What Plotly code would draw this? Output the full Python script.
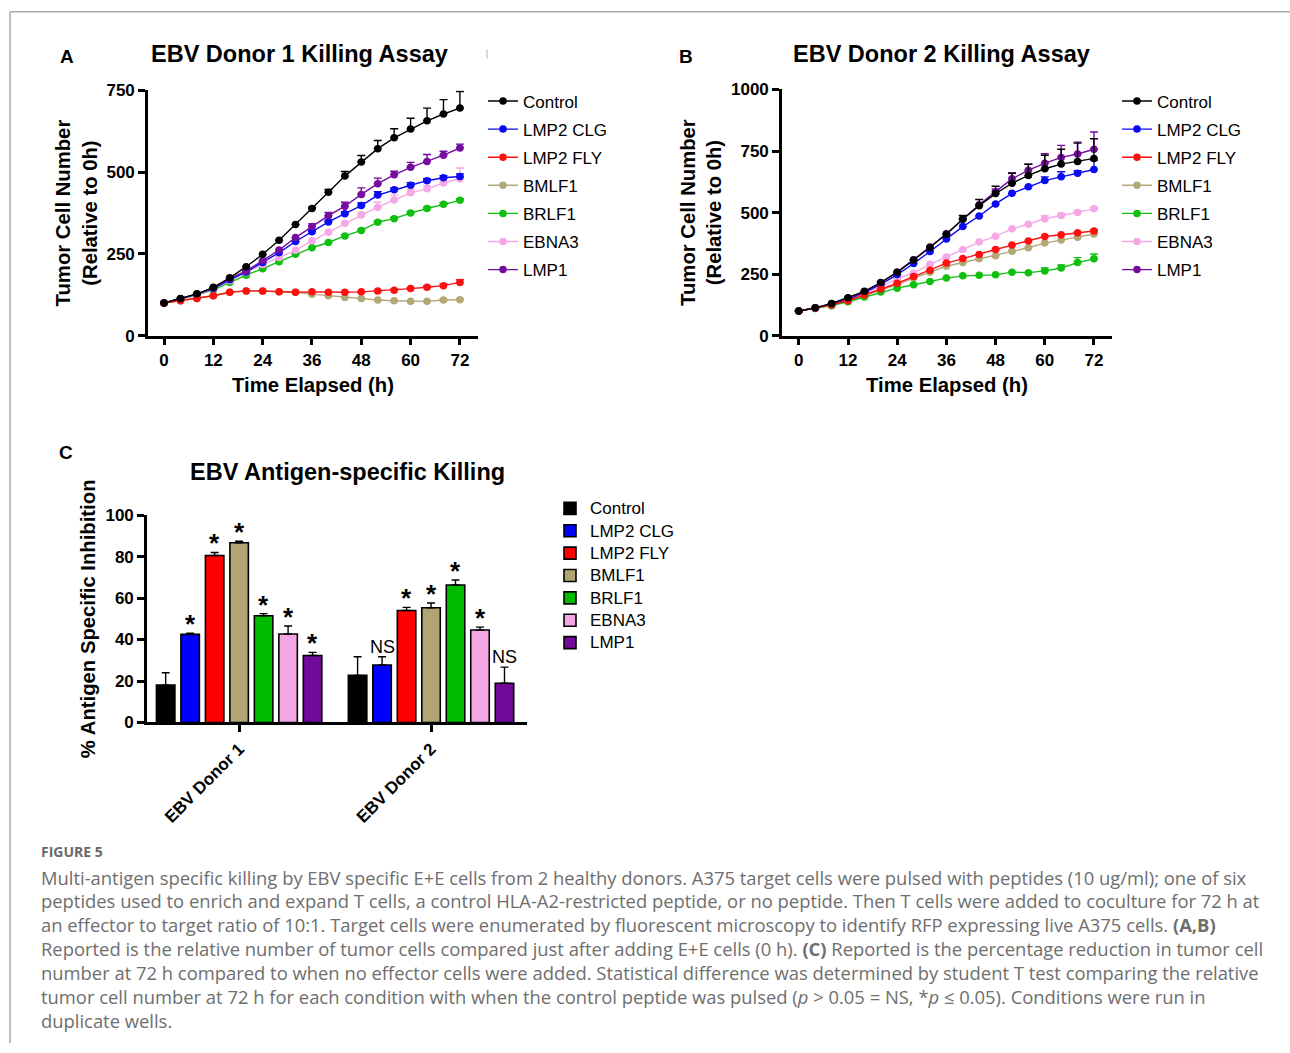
import plotly.graph_objects as go

# ---------------- data ----------------
hours = [0, 4, 8, 12, 16, 20, 24, 28, 32, 36, 40, 44, 48, 52, 56, 60, 64, 68, 72]
conditions = ["Control", "LMP2 CLG", "LMP2 FLY", "BMLF1", "BRLF1", "EBNA3", "LMP1"]

# Panel A: EBV Donor 1
a_control = [100, 114, 128, 148, 177, 211, 249, 292, 340, 389, 439, 488, 531, 572, 605, 632, 657, 678, 696]
a_control_err = [0, 0, 0, 0, 0, 0, 0, 0, 0, 3, 8, 14, 20, 25, 28, 33, 39, 44, 51]
a_lmp2clg = [100, 113, 127, 144, 171, 195, 224, 254, 288, 318, 348, 373, 398, 430, 446, 460, 474, 483, 487]
a_lmp2clg_err = [0, 0, 0, 0, 0, 0, 0, 0, 0, 4, 5, 6, 8, 10, 6, 8, 6, 6, 8]
a_lmp2fly = [100, 107, 114, 122, 133, 137, 137, 134, 133, 134, 133, 133, 134, 137, 139, 144, 148, 153, 163]
a_lmp2fly_err = [0, 0, 0, 0, 0, 0, 0, 0, 0, 0, 0, 0, 0, 0, 3, 3, 4, 5, 8]
a_bmlf1 = [100, 107, 114, 122, 133, 137, 136, 134, 133, 127, 122, 117, 114, 109, 107, 105, 105, 109, 110]
a_bmlf1_err = [0, 0, 0, 0, 0, 0, 0, 0, 0, 0, 0, 0, 0, 0, 0, 0, 0, 3, 3]
a_brlf1 = [100, 112, 124, 140, 163, 185, 205, 226, 249, 269, 285, 305, 322, 347, 358, 375, 389, 402, 414]
a_brlf1_err = [0, 0, 0, 0, 0, 0, 0, 0, 0, 0, 0, 3, 4, 4, 4, 5, 5, 5, 5]
a_ebna3 = [100, 112, 125, 143, 168, 193, 218, 239, 261, 290, 316, 344, 369, 393, 415, 437, 449, 467, 480]
a_ebna3_err = [0, 0, 0, 0, 0, 0, 0, 0, 0, 0, 0, 0, 8, 15, 15, 10, 10, 10, 33]
a_lmp1 = [100, 113, 127, 146, 175, 198, 229, 262, 300, 334, 367, 396, 432, 465, 492, 515, 533, 552, 574]
a_lmp1_err = [0, 0, 0, 0, 0, 0, 0, 0, 0, 8, 10, 12, 20, 17, 11, 15, 21, 12, 12]

# Panel B: EBV Donor 2
b_control = [100, 113, 131, 154, 180, 216, 258, 307, 358, 412, 473, 528, 577, 619, 651, 678, 697, 707, 720]
b_control_err = [0, 0, 0, 0, 0, 0, 0, 0, 0, 0, 15, 25, 30, 40, 45, 55, 60, 75, 80]
b_lmp2clg = [100, 112, 128, 148, 175, 208, 248, 293, 342, 393, 443, 486, 535, 578, 605, 630, 645, 660, 675]
b_lmp2clg_err = [0, 0, 0, 0, 0, 0, 0, 0, 0, 0, 0, 0, 0, 0, 0, 15, 21, 10, 37]
b_lmp2fly = [100, 112, 125, 142, 165, 190, 213, 240, 266, 295, 313, 330, 350, 368, 385, 403, 410, 418, 425]
b_lmp2fly_err = [0, 0, 0, 0, 0, 0, 0, 0, 0, 0, 0, 0, 0, 0, 0, 0, 0, 0, 5]
b_bmlf1 = [100, 111, 124, 140, 162, 185, 208, 234, 258, 282, 297, 312, 325, 343, 357, 376, 389, 400, 413]
b_bmlf1_err = [0, 0, 0, 0, 0, 0, 0, 0, 0, 0, 0, 0, 0, 0, 0, 0, 0, 0, 4]
b_brlf1 = [100, 110, 122, 138, 157, 177, 193, 207, 220, 234, 243, 245, 247, 258, 256, 263, 275, 297, 312]
b_brlf1_err = [0, 0, 0, 0, 0, 0, 0, 0, 0, 0, 0, 0, 0, 0, 0, 12, 12, 20, 20]
b_ebna3 = [100, 112, 127, 145, 170, 198, 232, 254, 290, 320, 350, 380, 404, 434, 453, 475, 488, 500, 515]
b_ebna3_err = [0, 0, 0, 0, 0, 0, 0, 0, 0, 0, 0, 0, 0, 0, 0, 12, 8, 8, 6]
b_lmp1 = [100, 113, 130, 152, 178, 215, 258, 308, 360, 414, 475, 532, 585, 637, 672, 700, 724, 738, 757]
b_lmp1_err = [0, 0, 0, 0, 0, 0, 0, 0, 0, 0, 0, 0, 10, 25, 24, 39, 49, 48, 70]

# Panel C: % antigen specific inhibition at 72 h
donors = ["EBV Donor 1", "EBV Donor 2"]
c_donor1 = [18.0, 42.5, 80.5, 86.7, 51.5, 42.7, 32.3]
c_donor1_err = [6.0, 0.5, 1.5, 0.7, 1.0, 3.8, 1.5]
c_donor2 = [22.7, 27.7, 54.0, 55.3, 66.3, 44.6, 18.9]
c_donor2_err = [9.0, 4.0, 1.5, 2.3, 2.4, 1.4, 7.8]
c_sig1 = ["", "*", "*", "*", "*", "*", "*"]
c_sig2 = ["", "NS", "*", "*", "*", "*", "NS"]

y_ticks_a = [0, 250, 500, 750]
y_ticks_b = [0, 250, 500, 750, 1000]
y_ticks_c = [0, 20, 40, 60, 80, 100]
x_ticks = [0, 12, 24, 36, 48, 60, 72]

# ---------------- style ----------------
line_colors = {"Control": "#000000", "LMP2 CLG": "#0a0af5", "LMP2 FLY": "#ff1010",
               "BMLF1": "#b3a878", "BRLF1": "#10c010", "EBNA3": "#f5a8e6", "LMP1": "#740d9e"}
bar_colors = {"Control": "#000000", "LMP2 CLG": "#0000ff", "LMP2 FLY": "#ff0000",
              "BMLF1": "#b2a574", "BRLF1": "#00bb00", "EBNA3": "#f4a6e4", "LMP1": "#71099a"}
FONT = "Liberation Sans, Arial, Helvetica, sans-serif"
CAP_FONT = "Open Sans, Noto Sans, sans-serif"
W, H = 1290, 1053


def Y(y):
    # vertical placement, corrected for the observed vertical mapping of the photographed page
    return (y - 7.3) / 0.985


def px(x0, x1):
    return [x0 / W, x1 / W]


def py(top, bottom):
    return [1 - Y(bottom) / H, 1 - Y(top) / H]


def pyy(y):
    return 1 - Y(y) / H


fig = go.Figure()

draw_order = ["BMLF1", "BRLF1", "EBNA3", "LMP2 CLG", "LMP1", "LMP2 FLY", "Control"]
a_data = {"Control": (a_control, a_control_err), "LMP2 CLG": (a_lmp2clg, a_lmp2clg_err),
          "LMP2 FLY": (a_lmp2fly, a_lmp2fly_err), "BMLF1": (a_bmlf1, a_bmlf1_err),
          "BRLF1": (a_brlf1, a_brlf1_err), "EBNA3": (a_ebna3, a_ebna3_err), "LMP1": (a_lmp1, a_lmp1_err)}
b_data = {"Control": (b_control, b_control_err), "LMP2 CLG": (b_lmp2clg, b_lmp2clg_err),
          "LMP2 FLY": (b_lmp2fly, b_lmp2fly_err), "BMLF1": (b_bmlf1, b_bmlf1_err),
          "BRLF1": (b_brlf1, b_brlf1_err), "EBNA3": (b_ebna3, b_ebna3_err), "LMP1": (b_lmp1, b_lmp1_err)}

for panel, data, xa, ya, leg in [("A", a_data, "x", "y", "legend"), ("B", b_data, "x2", "y2", "legend2")]:
    for name in draw_order:
        vals, errs = data[name]
        c = line_colors[name]
        fig.add_trace(go.Scatter(
            x=hours, y=vals, name=name, mode="lines+markers",
            xaxis=xa, yaxis=ya, legend=leg, legendrank=conditions.index(name) + 1,
            legendgroup=panel + name,
            line=dict(color=c, width=1.4),
            marker=dict(color=c, size=7.5, symbol="circle"),
            error_y=dict(type="data", symmetric=False, array=errs, arrayminus=[0] * len(errs),
                         color=c, thickness=1.4, width=4),
        ))

for i, name in enumerate(conditions):
    fig.add_trace(go.Bar(
        x=donors, y=[c_donor1[i], c_donor2[i]], name=f'<span style="font-size:17px">{name}</span>',
        xaxis="x3", yaxis="y3", legend="legend3", legendrank=i + 1, legendgroup="C" + name,
        marker=dict(color=bar_colors[name], line=dict(color="#000000", width=1.6)),
        error_y=dict(type="data", symmetric=False, array=[c_donor1_err[i], c_donor2_err[i]],
                     arrayminus=[0, 0], color="#000000", thickness=1.4, width=4),
    ))

axis_common = dict(showgrid=False, zeroline=False, showline=True, linecolor="#000000", linewidth=2.6,
                   ticks="outside", ticklen=7, tickwidth=2.6, tickcolor="#000000",
                   tickfont=dict(family=FONT, size=17, color="#000000", weight="bold"))
title_font = dict(family=FONT, size=20.3, color="#000000", weight="bold")

fig.update_layout(
    width=W, height=H, margin=dict(l=0, r=0, t=0, b=0),
    paper_bgcolor="#ffffff", plot_bgcolor="#ffffff",
    showlegend=True, bargap=0.107, bargroupgap=0.245, barmode="group",
    xaxis=dict(domain=px(148, 478), range=[-3.9, 76.4], tickvals=x_ticks, anchor="y",
               title=dict(text="Time Elapsed (h)", font=title_font, standoff=9), **axis_common),
    yaxis=dict(domain=py(89, 335), range=[0, 750], tickvals=y_ticks_a, anchor="x",
               title=dict(text="Tumor Cell Number<br>(Relative to 0h)", font=title_font, standoff=4),
               **axis_common),
    xaxis2=dict(domain=px(782, 1112), range=[-4.1, 76.4], tickvals=x_ticks, anchor="y2",
                title=dict(text="Time Elapsed (h)", font=title_font, standoff=9), **axis_common),
    yaxis2=dict(domain=py(88, 335), range=[0, 1000], tickvals=y_ticks_b, anchor="x2",
                title=dict(text="Tumor Cell Number<br>(Relative to 0h)", font=title_font, standoff=4),
                **axis_common),
    xaxis3=dict(domain=px(147, 527), range=[-0.48, 1.5], anchor="y3", tickangle=-45,
                **axis_common),
    yaxis3=dict(domain=py(515, 723), range=[0, 100], tickvals=y_ticks_c, anchor="x3",
                title=dict(text="% Antigen Specific Inhibition", font=title_font, standoff=5),
                **axis_common),
    legend=dict(x=483 / W, y=pyy(82), xanchor="left", yanchor="top", bgcolor="rgba(0,0,0,0)",
                font=dict(family=FONT, size=17, color="#000000"), tracegroupgap=3.0, itemwidth=30),
    legend2=dict(x=1117 / W, y=pyy(82), xanchor="left", yanchor="top", bgcolor="rgba(0,0,0,0)",
                 font=dict(family=FONT, size=17, color="#000000"), tracegroupgap=3.0, itemwidth=30),
    legend3=dict(x=550 / W, y=pyy(492), xanchor="left", yanchor="top", bgcolor="rgba(0,0,0,0)",
                 font=dict(family=FONT, size=14.9, color="#000000"), tracegroupgap=0, itemwidth=30),
)

annotations = []
# significance labels above bars
slot = (1 - 0.107) / len(conditions)
for g, (vals, errs, sigs) in enumerate([(c_donor1, c_donor1_err, c_sig1), (c_donor2, c_donor2_err, c_sig2)]):
    for i, s in enumerate(sigs):
        if not s:
            continue
        xpos = g + (i - (len(conditions) - 1) / 2) * slot
        if s == "*":
            annotations.append(dict(x=xpos, y=vals[i] + errs[i], xref="x3", yref="y3", text="<b>*</b>",
                                    showarrow=False, yanchor="bottom", yshift=-8,
                                    font=dict(family=FONT, size=26, color="#000000")))
        else:
            annotations.append(dict(x=xpos, y=vals[i] + errs[i], xref="x3", yref="y3", text=s,
                                    showarrow=False, yanchor="bottom", yshift=-2,
                                    font=dict(family=FONT, size=18, color="#000000")))

# panel titles and letters
for txt, x, y in [("EBV Donor 1 Killing Assay", 299, 52), ("EBV Donor 2 Killing Assay", 941, 52),
                  ("EBV Antigen-specific Killing", 347, 472)]:
    annotations.append(dict(x=x / W, y=pyy(y), xref="paper", yref="paper", text=f"<b>{txt}</b>",
                            showarrow=False, xanchor="center", yanchor="middle",
                            font=dict(family=FONT, size=23.5, color="#000000")))
for txt, x, y in [("A", 67, 55), ("B", 686, 55), ("C", 66, 452)]:
    annotations.append(dict(x=x / W, y=pyy(y), xref="paper", yref="paper", text=f"<b>{txt}</b>",
                            showarrow=False, xanchor="center", yanchor="middle",
                            font=dict(family=FONT, size=19, color="#000000")))

# caption
annotations.append(dict(x=39 / W, y=pyy(852), xref="paper", yref="paper", text="<b>FIGURE 5</b>",
                        showarrow=False, xanchor="left", yanchor="middle",
                        font=dict(family=CAP_FONT, size=14, color="#6a6a6a")))
caption_lines = [
    "Multi-antigen specific killing by EBV specific E+E cells from 2 healthy donors. A375 target cells were pulsed with peptides (10 ug/ml); one of six",
    "peptides used to enrich and expand T cells, a control HLA-A2-restricted peptide, or no peptide. Then T cells were added to coculture for 72 h at",
    "an effector to target ratio of 10:1. Target cells were enumerated by fluorescent microscopy to identify RFP expressing live A375 cells. <b>(A,B)</b>",
    "Reported is the relative number of tumor cells compared just after adding E+E cells (0 h). <b>(C)</b> Reported is the percentage reduction in tumor cell",
    "number at 72 h compared to when no effector cells were added. Statistical difference was determined by student T test comparing the relative",
    "tumor cell number at 72 h for each condition with when the control peptide was pulsed (<i>p</i> > 0.05 = NS, *<i>p</i> ≤ 0.05). Conditions were run in",
    "duplicate wells.",
]
for k, line in enumerate(caption_lines):
    annotations.append(dict(x=39 / W, y=pyy(878 + 24 * k), xref="paper", yref="paper", text=line,
                            showarrow=False, xanchor="left", yanchor="middle",
                            font=dict(family=CAP_FONT, size=18.4, color="#6e6e6e")))

fig.update_layout(annotations=annotations)

# frame lines (top and left) and small stray mark
fig.add_shape(type="line", xref="paper", yref="paper", x0=10 / W, x1=1.0, y0=pyy(10), y1=pyy(10),
              line=dict(color="#aaaaaa", width=1.5))
fig.add_shape(type="line", xref="paper", yref="paper", x0=10 / W, x1=10 / W, y0=0, y1=pyy(10),
              line=dict(color="#aaaaaa", width=1.5))
fig.add_shape(type="line", xref="paper", yref="paper", x0=487 / W, x1=487 / W, y0=pyy(57), y1=pyy(48),
              line=dict(color="#cccccc", width=1.5))

fig.write_html(
    "out.html",
    config={"displayModeBar": False},
    post_script=(
        "var gd=document.getElementById('{plot_id}');"
        "document.documentElement.style.margin='0';document.body.style.margin='0';"
        "document.documentElement.style.overflow='hidden';document.body.style.overflow='hidden';"
        "gd.style.position='fixed';gd.style.left='0px';gd.style.top='0px';"
    ),
)
